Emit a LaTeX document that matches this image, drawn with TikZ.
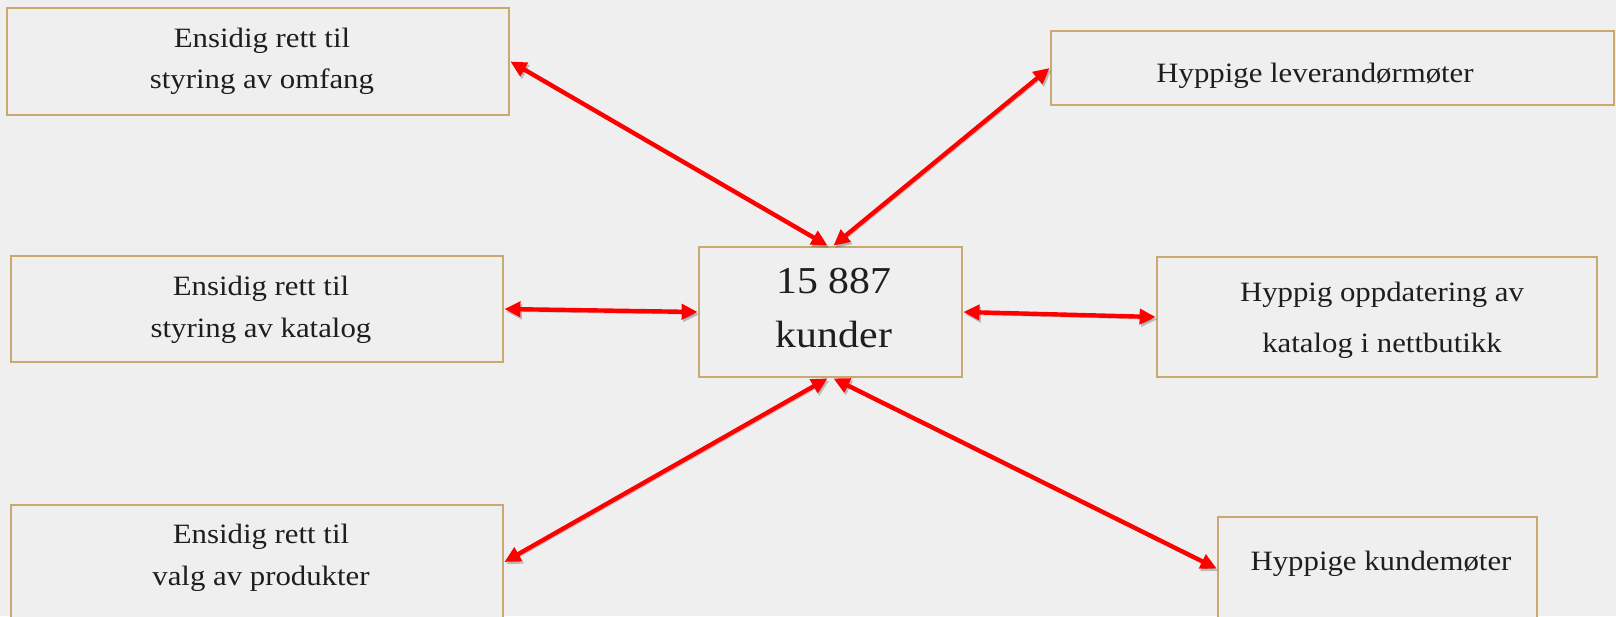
\documentclass[tikz,border=0pt]{standalone}
\usepackage{fontspec}
\setmainfont{Liberation Serif}[FakeStretch=1.1]
\usetikzlibrary{arrows.meta,fit,calc}
\definecolor{bg}{RGB}{239,239,239}
\definecolor{tan}{RGB}{200,170,112}
\definecolor{ink}{RGB}{30,30,30}
\begin{document}
\begin{tikzpicture}[x=0.5pt,y=-0.5pt,
  box/.style={draw=tan, line width=1.4pt, fill=bg, inner sep=0pt},
  txt/.style={anchor=base, text=ink, inner sep=0pt, font=\fontsize{14pt}{16pt}\selectfont},
  bigtxt/.style={anchor=base, text=ink, inner sep=0pt, font=\fontsize{19pt}{22pt}\selectfont},
  arr/.style={draw=red, line width=2.2pt, {Triangle[length=8pt,width=7.5pt]}-{Triangle[length=8pt,width=7.5pt]},
    preaction={draw=black, opacity=0.22, transform canvas={shift={(0.8pt,-1.2pt)}}}}]
\fill[bg] (0,0) rectangle (1616,616);
\useasboundingbox (0,0) rectangle (1616,616);
% boxes
\node[box, fit={(7,8) (509,115)}] (tl) {};
\node[box, fit={(1051,31) (1614,105)}] (tr) {};
\node[box, fit={(11,256) (503,362)}] (ml) {};
\node[box, fit={(699,247) (962,377)}] (c) {};
\node[box, fit={(1157,257) (1597,377)}] (mr) {};
\node[box, fit={(11,505) (503,619)}] (bl) {};
\node[box, fit={(1218,517) (1537,620)}] (br) {};
% texts
\node[txt] (tl1) at (262,47) {Ensidig rett til};
\node[txt] (tl2) at (262,88) {styring av omfang};
\node[txt] (tr1) at (1315,82) {Hyppige leverandørmøter};
\node[txt] (ml1) at (261,295) {Ensidig rett til};
\node[txt] (ml2) at (261,337) {styring av katalog};
\node[bigtxt] (c1) at (834,293) {15 887};
\node[bigtxt] (c2) at (834,347) {kunder};
\node[txt] (mr1) at (1382,301) {Hyppig oppdatering av};
\node[txt] (mr2) at (1382,352) {katalog i nettbutikk};
\node[txt] (bl1) at (261,543) {Ensidig rett til};
\node[txt] (bl2) at (261,585) {valg av produkter};
\node[txt] (br1) at (1381,570) {Hyppige kundemøter};
% arrows
\draw[arr] (tl.east) -- ([xshift=-1.5pt]c.north);
\draw[arr] (tr.west) -- ([xshift=1.5pt]c.north);
\draw[arr] (ml.east) -- (c.west);
\draw[arr] (c.east) -- (mr.west);
\draw[arr] ([xshift=-1.5pt]c.south) -- (bl.east);
\draw[arr] ([xshift=1.5pt]c.south) -- (br.west);
\end{tikzpicture}
\end{document}
